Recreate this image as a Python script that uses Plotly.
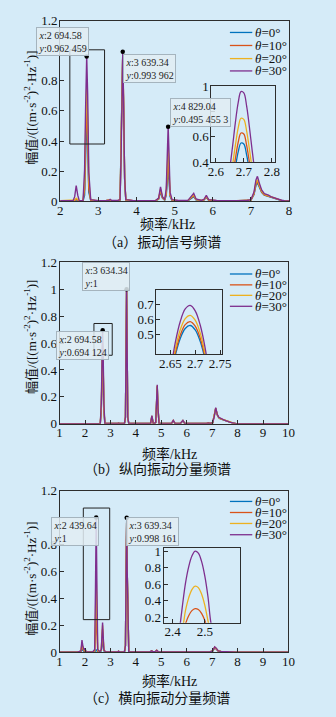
import plotly.graph_objects as go

W, H = 336, 717
BG = "rgb(213,235,248)"
AXC = "rgb(45,45,45)"
FONT = "Liberation Serif, Noto Sans CJK SC, serif"

theta_names = ["<i>θ</i>=0°", "<i>θ</i>=10°", "<i>θ</i>=20°", "<i>θ</i>=30°"]
line_colors = ["#0072BD", "#D95319", "#EDB120", "#7E2F8E"]

# ---------------- (a) vibration signal spectrum ----------------
fa = [2.00, 2.20, 2.34, 2.38, 2.42, 2.46, 2.50, 2.60, 2.64, 2.665,
      2.695, 2.72, 2.75, 2.80, 2.90, 3.00, 3.20, 3.28, 3.31, 3.34,
      3.50, 3.57, 3.60, 3.62, 3.64, 3.66, 3.69, 3.72, 3.90, 4.20,
      4.50, 4.58, 4.63, 4.68, 4.74, 4.78, 4.81, 4.83, 4.85, 4.88,
      4.93, 5.10, 5.35, 5.44, 5.50, 5.56, 5.70, 5.77, 5.83, 5.89,
      6.10, 6.50, 6.75, 6.82, 6.90, 7.00, 7.08, 7.13, 7.17, 7.22,
      7.28, 7.35, 7.41, 7.46, 7.52, 7.60, 7.70, 7.80, 7.88, 8.00]
a0 = [0.002, 0.002, 0.002, 0.003, 0.006, 0.003, 0.002, 0.003, 0.040, 0.300,
      0.559, 0.380, 0.060, 0.006, 0.002, 0.002, 0.002, 0.004, 0.008, 0.003,
      0.002, 0.007, 0.330, 0.730, 0.970, 0.680, 0.140, 0.008, 0.002, 0.002,
      0.002, 0.013, 0.062, 0.020, 0.006, 0.040, 0.150, 0.210, 0.150, 0.030,
      0.006, 0.002, 0.003, 0.019, 0.030, 0.009, 0.003, 0.008, 0.025, 0.006,
      0.002, 0.002, 0.002, 0.005, 0.002, 0.007, 0.044, 0.104, 0.122, 0.092,
      0.058, 0.040, 0.035, 0.031, 0.023, 0.017, 0.009, 0.004, 0.002, 0.001]
a10 = [0.002, 0.003, 0.003, 0.005, 0.012, 0.006, 0.002, 0.004, 0.080, 0.380,
       0.638, 0.450, 0.080, 0.007, 0.003, 0.002, 0.003, 0.004, 0.009, 0.004,
       0.003, 0.008, 0.335, 0.735, 0.978, 0.685, 0.145, 0.009, 0.003, 0.002,
       0.003, 0.015, 0.072, 0.023, 0.007, 0.050, 0.195, 0.280, 0.195, 0.038,
       0.007, 0.003, 0.004, 0.022, 0.036, 0.010, 0.004, 0.009, 0.028, 0.007,
       0.003, 0.002, 0.003, 0.006, 0.003, 0.008, 0.048, 0.112, 0.132, 0.098,
       0.062, 0.042, 0.037, 0.033, 0.025, 0.018, 0.010, 0.005, 0.002, 0.002]
a20 = [0.003, 0.003, 0.003, 0.008, 0.020, 0.010, 0.003, 0.004, 0.130, 0.460,
       0.754, 0.550, 0.130, 0.008, 0.003, 0.003, 0.003, 0.005, 0.010, 0.004,
       0.003, 0.009, 0.340, 0.740, 0.985, 0.690, 0.150, 0.009, 0.003, 0.003,
       0.003, 0.017, 0.082, 0.026, 0.008, 0.060, 0.240, 0.350, 0.240, 0.045,
       0.008, 0.003, 0.004, 0.025, 0.042, 0.012, 0.004, 0.010, 0.031, 0.008,
       0.003, 0.003, 0.003, 0.007, 0.003, 0.009, 0.052, 0.122, 0.142, 0.105,
       0.066, 0.045, 0.040, 0.035, 0.027, 0.019, 0.011, 0.005, 0.003, 0.002]
a30 = [0.003, 0.004, 0.004, 0.030, 0.104, 0.040, 0.003, 0.005, 0.210, 0.600,
       0.962, 0.710, 0.190, 0.010, 0.004, 0.003, 0.004, 0.006, 0.012, 0.005,
       0.004, 0.010, 0.350, 0.750, 0.994, 0.700, 0.150, 0.010, 0.004, 0.003,
       0.004, 0.020, 0.095, 0.030, 0.010, 0.080, 0.330, 0.495, 0.340, 0.060,
       0.010, 0.004, 0.005, 0.030, 0.052, 0.015, 0.005, 0.012, 0.038, 0.010,
       0.004, 0.003, 0.004, 0.008, 0.004, 0.010, 0.060, 0.140, 0.165, 0.120,
       0.075, 0.050, 0.045, 0.040, 0.030, 0.022, 0.013, 0.006, 0.003, 0.002]
# zoomed view around 2.7 kHz
ia_x = [2.64, 2.65, 2.66, 2.67, 2.68, 2.69, 2.70, 2.71, 2.72, 2.73, 2.74, 2.75]
ia0 = [0.061, 0.129, 0.233, 0.361, 0.482, 0.552, 0.544, 0.460, 0.335, 0.209, 0.112, 0.052]
ia10 = [0.086, 0.169, 0.289, 0.430, 0.558, 0.631, 0.623, 0.535, 0.401, 0.262, 0.149, 0.074]
ia20 = [0.133, 0.238, 0.379, 0.535, 0.671, 0.747, 0.738, 0.648, 0.504, 0.349, 0.214, 0.117]
ia30 = [0.211, 0.352, 0.528, 0.714, 0.870, 0.956, 0.946, 0.844, 0.678, 0.491, 0.321, 0.189]
tip_a_x = [2.69458, 3.63934, 4.82904]
tip_a_y = [0.962459, 0.993962, 0.4954553]
tip_a_text = ["<i>x</i>:2 694.58<br><i>y</i>:0.962 459",
              "<i>x</i>:3 639.34<br><i>y</i>:0.993 962",
              "<i>x</i>:4 829.04<br><i>y</i>:0.495 455 3"]
zoom_a = [2.253, 3.163, 0.380, 1.0065]

# ---------------- (b) longitudinal component ----------------
fb = [1.00, 2.00, 2.40, 2.60, 2.64, 2.665, 2.69, 2.715, 2.74, 2.78,
      3.00, 3.28, 3.32, 3.36, 3.55, 3.59, 3.615, 3.634, 3.655, 3.68,
      3.72, 4.00, 4.50, 4.58, 4.63, 4.68, 4.73, 4.78, 4.81, 4.84,
      4.87, 4.91, 5.10, 5.40, 5.47, 5.54, 5.75, 5.85, 5.92, 6.30,
      6.78, 6.85, 6.92, 7.02, 7.09, 7.14, 7.20, 7.26, 7.32, 7.40,
      7.48, 7.56, 7.64, 7.72, 7.82, 7.92, 8.50, 10.00]
b0 = [0.0, 0.0, 0.001, 0.002, 0.100, 0.380, 0.558, 0.400, 0.100, 0.003,
      0.002, 0.002, 0.005, 0.002, 0.002, 0.048, 0.590, 0.990, 0.590, 0.048,
      0.002, 0.001, 0.002, 0.004, 0.056, 0.005, 0.003, 0.009, 0.130, 0.275,
      0.110, 0.005, 0.002, 0.002, 0.023, 0.003, 0.002, 0.023, 0.003, 0.001,
      0.002, 0.005, 0.002, 0.007, 0.056, 0.112, 0.066, 0.045, 0.037, 0.032,
      0.026, 0.019, 0.013, 0.009, 0.005, 0.002, 0.001, 0.0]
b10 = [0.0, 0.0, 0.001, 0.002, 0.110, 0.400, 0.584, 0.420, 0.110, 0.003,
       0.002, 0.002, 0.005, 0.002, 0.002, 0.049, 0.593, 0.993, 0.593, 0.049,
       0.002, 0.001, 0.002, 0.004, 0.057, 0.005, 0.003, 0.009, 0.134, 0.280,
       0.114, 0.005, 0.002, 0.002, 0.024, 0.003, 0.002, 0.024, 0.003, 0.001,
       0.002, 0.006, 0.002, 0.007, 0.058, 0.115, 0.067, 0.046, 0.038, 0.033,
       0.027, 0.019, 0.013, 0.009, 0.005, 0.002, 0.001, 0.0]
b20 = [0.0, 0.0, 0.001, 0.002, 0.120, 0.430, 0.627, 0.450, 0.120, 0.004,
       0.002, 0.002, 0.006, 0.002, 0.002, 0.049, 0.596, 0.996, 0.596, 0.049,
       0.002, 0.001, 0.002, 0.005, 0.058, 0.005, 0.003, 0.010, 0.137, 0.285,
       0.117, 0.005, 0.002, 0.002, 0.024, 0.003, 0.002, 0.024, 0.003, 0.001,
       0.002, 0.006, 0.002, 0.008, 0.059, 0.117, 0.068, 0.047, 0.039, 0.033,
       0.027, 0.020, 0.014, 0.010, 0.006, 0.002, 0.001, 0.0]
b30 = [0.0, 0.0, 0.001, 0.002, 0.150, 0.480, 0.694, 0.500, 0.150, 0.004,
       0.002, 0.002, 0.006, 0.002, 0.002, 0.050, 0.600, 1.000, 0.600, 0.050,
       0.002, 0.001, 0.002, 0.005, 0.060, 0.005, 0.003, 0.010, 0.140, 0.290,
       0.120, 0.005, 0.002, 0.002, 0.025, 0.003, 0.002, 0.025, 0.003, 0.001,
       0.002, 0.006, 0.002, 0.008, 0.060, 0.120, 0.070, 0.048, 0.040, 0.034,
       0.028, 0.020, 0.014, 0.010, 0.006, 0.002, 0.001, 0.0]
ib_x = [2.64, 2.65, 2.66, 2.67, 2.68, 2.69, 2.70, 2.71, 2.72, 2.73, 2.74]
ib0 = [0.0, 0.190, 0.354, 0.470, 0.538, 0.558, 0.528, 0.451, 0.325, 0.151, 0.0]
ib10 = [0.0, 0.199, 0.371, 0.492, 0.564, 0.584, 0.553, 0.472, 0.340, 0.158, 0.0]
ib20 = [0.0, 0.213, 0.398, 0.529, 0.605, 0.627, 0.594, 0.507, 0.366, 0.169, 0.0]
ib30 = [0.0, 0.236, 0.441, 0.585, 0.670, 0.694, 0.657, 0.561, 0.405, 0.187, 0.0]
tip_b_x = [3.63434, 2.69458]
tip_b_y = [1.0, 0.694124]
tip_b_text = ["<i>x</i>:3 634.34<br><i>y</i>:1",
              "<i>x</i>:2 694.58<br><i>y</i>:0.694 124"]
zoom_b = [2.35, 3.07, 0.509, 0.745]

# ---------------- (c) transverse component ----------------
fc = [1.00, 1.70, 1.84, 1.88, 1.92, 1.97, 2.00, 2.04, 2.30, 2.38,
      2.41, 2.44, 2.47, 2.50, 2.58, 2.64, 2.69, 2.74, 2.80, 3.00,
      3.28, 3.32, 3.36, 3.55, 3.59, 3.615, 3.639, 3.66, 3.69, 3.72,
      4.00, 4.55, 4.62, 4.68, 4.76, 4.82, 4.88, 5.20, 6.90, 7.02,
      7.10, 7.16, 7.24, 7.35, 7.50, 8.00, 10.00]
c0 = [0.0, 0.001, 0.004, 0.020, 0.010, 0.005, 0.008, 0.002, 0.001, 0.002,
      0.010, 0.020, 0.010, 0.002, 0.002, 0.010, 0.100, 0.010, 0.002, 0.001,
      0.001, 0.006, 0.001, 0.002, 0.048, 0.590, 0.980, 0.590, 0.048, 0.003,
      0.001, 0.001, 0.008, 0.002, 0.003, 0.012, 0.002, 0.001, 0.001, 0.008,
      0.032, 0.024, 0.008, 0.004, 0.002, 0.001, 0.0]
c10 = [0.0, 0.001, 0.007, 0.050, 0.022, 0.009, 0.016, 0.002, 0.002, 0.008,
       0.140, 0.306, 0.140, 0.008, 0.002, 0.015, 0.170, 0.015, 0.002, 0.001,
       0.002, 0.007, 0.002, 0.002, 0.049, 0.593, 0.985, 0.593, 0.049, 0.003,
       0.002, 0.001, 0.009, 0.002, 0.003, 0.013, 0.003, 0.001, 0.002, 0.009,
       0.035, 0.026, 0.009, 0.004, 0.002, 0.001, 0.0]
c20 = [0.0, 0.001, 0.008, 0.070, 0.031, 0.012, 0.023, 0.003, 0.002, 0.012,
       0.260, 0.580, 0.260, 0.012, 0.003, 0.018, 0.200, 0.018, 0.003, 0.002,
       0.002, 0.008, 0.002, 0.002, 0.049, 0.596, 0.990, 0.596, 0.049, 0.003,
       0.002, 0.002, 0.010, 0.003, 0.004, 0.014, 0.003, 0.002, 0.002, 0.010,
       0.038, 0.028, 0.010, 0.005, 0.003, 0.001, 0.0]
c30 = [0.0, 0.001, 0.010, 0.090, 0.040, 0.015, 0.030, 0.003, 0.002, 0.020,
       0.450, 1.000, 0.450, 0.020, 0.003, 0.020, 0.220, 0.020, 0.003, 0.002,
       0.002, 0.008, 0.002, 0.002, 0.050, 0.600, 0.998, 0.600, 0.050, 0.003,
       0.002, 0.002, 0.010, 0.003, 0.004, 0.015, 0.003, 0.002, 0.002, 0.010,
       0.040, 0.030, 0.010, 0.005, 0.003, 0.001, 0.0]
ic_x = [2.42, 2.43, 2.44, 2.45, 2.46, 2.47, 2.48, 2.49, 2.50, 2.51, 2.52, 2.53]
ic0 = [0.0, 0.0, 0.005, 0.010, 0.015, 0.017, 0.016, 0.012, 0.008, 0.003, 0.0, 0.0]
ic10 = [0.0, 0.0, 0.120, 0.218, 0.280, 0.305, 0.294, 0.247, 0.163, 0.043, 0.0, 0.0]
ic20 = [0.0, 0.063, 0.280, 0.435, 0.535, 0.576, 0.558, 0.482, 0.348, 0.156, 0.0, 0.0]
ic30 = [0.0, 0.320, 0.610, 0.810, 0.940, 1.000, 0.975, 0.875, 0.700, 0.445, 0.115, 0.0]
tip_c_x = [2.43964, 3.63934]
tip_c_y = [1.0, 0.998161]
tip_c_text = ["<i>x</i>:2 439.64<br><i>y</i>:1",
              "<i>x</i>:3 639.34<br><i>y</i>:0.998 161"]
zoom_c = [1.933, 2.97, 0.242, 1.071]

main_yticks = [0, 0.2, 0.4, 0.6, 0.8, 1.0, 1.2]
ylabel = "幅值/([(m·s<sup>-2</sup>)<sup>2</sup>·Hz<sup>-1</sup>)]"
xlabel = "频率/kHz"
captions = ["（a）振动信号频谱", "（b）纵向振动分量频谱", "（c）横向振动分量频谱"]


def px(x):
    return x / W


def py(y):
    return 1 - y / H


def fmt(v):
    return ("%g" % v)


fig = go.Figure()

panels = [
    dict(f=fa, ys=[a0, a10, a20, a30], ix=ia_x, iys=[ia0, ia10, ia20, ia30],
         tx=tip_a_x, ty=tip_a_y, tt=tip_a_text, zoom=zoom_a,
         main=(59.3, 296.7, 14, 198.3), inset=(216, 281.7, 80.7, 158.7),
         xr=[2, 8], xt=[2, 3, 4, 5, 6, 7, 8], hide_main=[1.0],
         ixr=[2.584, 2.81], ixt=[2.6, 2.7, 2.8], iyr=[0.4, 1.0], iyt=[0.4, 0.6, 0.8, 1.0], hide_inset=[0.8],
         tips=[(34.3, 20.7), (124, 47.7), (173.3, 92.7)],
         leg_rows=[26, 39.3, 52.7, 65.3], xlab=(171, 221.7), cap=(165, 240.5), ylab=(28, 103)),
    dict(f=fb, ys=[b0, b10, b20, b30], ix=ib_x, iys=[ib0, ib10, ib20, ib30],
         tx=tip_b_x, ty=tip_b_y, tt=tip_b_text, zoom=zoom_b,
         main=(58.7, 296, 260.7, 425.7), inset=(159, 227.5, 289, 354.5),
         xr=[1, 10], xt=list(range(1, 11)), hide_main=[],
         ixr=[2.622, 2.7545], ixt=[2.65, 2.7, 2.75], iyr=[0.364, 0.799], iyt=[0.5, 0.6, 0.7], hide_inset=[],
         tips=[(81.7, 260), (55, 330.7)],
         leg_rows=[272.7, 283.8, 294.5, 305.7], xlab=(173, 456.7), cap=(160, 472.3), ylab=(28, 337)),
    dict(f=fc, ys=[c0, c10, c20, c30], ix=ic_x, iys=[ic0, ic10, ic20, ic30],
         tx=tip_c_x, ty=tip_c_y, tt=tip_c_text, zoom=zoom_c,
         main=(58.7, 296, 494, 659), inset=(166.5, 246, 552.3, 629),
         xr=[1, 10], xt=list(range(1, 11)), hide_main=[1.0],
         ixr=[2.372, 2.61], ixt=[2.4, 2.5], iyr=[0.133, 1.04], iyt=[0.2, 0.4, 0.6, 0.8, 1.0], hide_inset=[],
         tips=[(49.3, 520.7), (127.7, 520.7)],
         leg_rows=[505, 516.3, 527.5, 539], xlab=(173, 688.3), cap=(160, 706.7), ylab=(28, 584)),
]

axis_common = dict(showline=True, linecolor=AXC, linewidth=1, mirror=True,
                   ticks="inside", ticklen=4, tickcolor=AXC, tickwidth=1,
                   showgrid=False, zeroline=False,
                   tickfont=dict(family=FONT, size=13, color="#111"))

layout_axes = {}
shapes = []
annotations = []

for p_i, P in enumerate(panels):
    mx = 2 * p_i + 1
    ix = 2 * p_i + 2
    mxn = "x" if mx == 1 else f"x{mx}"
    myn = "y" if mx == 1 else f"y{mx}"
    ixn = f"x{ix}"
    iyn = f"y{ix}"
    for k in range(4):
        fig.add_trace(go.Scatter(x=P["f"], y=P["ys"][k], mode="lines", name=theta_names[k],
                                 line=dict(color=line_colors[k], width=1.4),
                                 xaxis=mxn, yaxis=myn, showlegend=False))
    fig.add_trace(go.Scatter(x=P["tx"], y=P["ty"], mode="markers",
                             marker=dict(color="black", size=4.5),
                             xaxis=mxn, yaxis=myn, showlegend=False, cliponaxis=False))
    for k in range(4):
        fig.add_trace(go.Scatter(x=P["ix"], y=P["iys"][k], mode="lines", name=theta_names[k],
                                 line=dict(color=line_colors[k], width=1.3, shape="spline"),
                                 xaxis=ixn, yaxis=iyn, showlegend=False))
    l, r, t, b = P["main"]
    layout_axes[f"xaxis{'' if mx == 1 else mx}"] = dict(
        axis_common, domain=[px(l), px(r)], anchor=myn, range=P["xr"], tickvals=P["xt"],
        ticklabelstandoff=-3)
    layout_axes[f"yaxis{'' if mx == 1 else mx}"] = dict(
        axis_common, domain=[py(b), py(t)], anchor=mxn, range=[0, 1.2],
        tickvals=main_yticks,
        ticktext=["" if v in P["hide_main"] else fmt(v) for v in main_yticks],
        ticklabelstandoff=-1)
    l, r, t, b = P["inset"]
    layout_axes[f"xaxis{ix}"] = dict(axis_common, domain=[px(l), px(r)], anchor=iyn,
                                     range=P["ixr"], tickvals=P["ixt"], ticklabelstandoff=-3)
    layout_axes[f"yaxis{ix}"] = dict(axis_common, domain=[py(b), py(t)], anchor=ixn,
                                     range=P["iyr"], tickvals=P["iyt"],
                                     ticktext=["" if v in P["hide_inset"] else fmt(v) for v in P["iyt"]],
                                     ticklabelstandoff=-1)
    z = P["zoom"]
    shapes.append(dict(type="rect", xref=mxn, yref=myn, x0=z[0], x1=z[1], y0=z[2], y1=z[3],
                       line=dict(color="#222", width=1), fillcolor="rgba(0,0,0,0)"))
    for (tx, ty), txt in zip(P["tips"], P["tt"]):
        annotations.append(dict(xref="paper", yref="paper", x=px(tx), y=py(ty),
                                xanchor="left", yanchor="top", align="left", showarrow=False,
                                text=txt, font=dict(family=FONT, size=10, color="#222"),
                                bgcolor="rgba(226,237,243,0.85)", bordercolor="rgb(165,180,190)",
                                borderwidth=1, borderpad=1.5))
    for k, ry in enumerate(P["leg_rows"]):
        shapes.append(dict(type="line", xref="paper", yref="paper",
                           x0=px(235.3), x1=px(258.5), y0=py(ry), y1=py(ry),
                           line=dict(color=line_colors[k], width=1.3)))
        annotations.append(dict(xref="paper", yref="paper", x=px(259.5), y=py(ry),
                                xanchor="left", yanchor="middle", showarrow=False,
                                text=theta_names[k], font=dict(family=FONT, size=13, color="#111")))
    annotations.append(dict(xref="paper", yref="paper", x=px(P["xlab"][0]), y=py(P["xlab"][1]),
                            xanchor="center", yanchor="middle", showarrow=False, text=xlabel,
                            font=dict(family=FONT, size=14, color="#111")))
    annotations.append(dict(xref="paper", yref="paper", x=px(P["ylab"][0]), y=py(P["ylab"][1]),
                            xanchor="center", yanchor="middle", showarrow=False, text=ylabel,
                            textangle=-90, font=dict(family=FONT, size=13, color="#111")))
    annotations.append(dict(xref="paper", yref="paper", x=px(P["cap"][0]), y=py(P["cap"][1]),
                            xanchor="center", yanchor="middle", showarrow=False, text=captions[p_i],
                            font=dict(family=FONT, size=14, color="#111")))

fig.update_layout(
    width=W, height=H, autosize=False,
    margin=dict(l=0, r=0, t=0, b=0),
    paper_bgcolor=BG, plot_bgcolor=BG,
    font=dict(family=FONT, color="#111"),
    shapes=shapes, annotations=annotations,
    showlegend=False, hovermode=False,
    **layout_axes,
)

fig.write_html(
    "out.html",
    config={"displayModeBar": False, "staticPlot": True},
    post_script=("document.body.style.margin='0';"
                 "document.body.style.overflow='hidden';"
                 "document.documentElement.style.overflow='hidden';"
                 "document.body.style.background='" + BG + "';"),
)
